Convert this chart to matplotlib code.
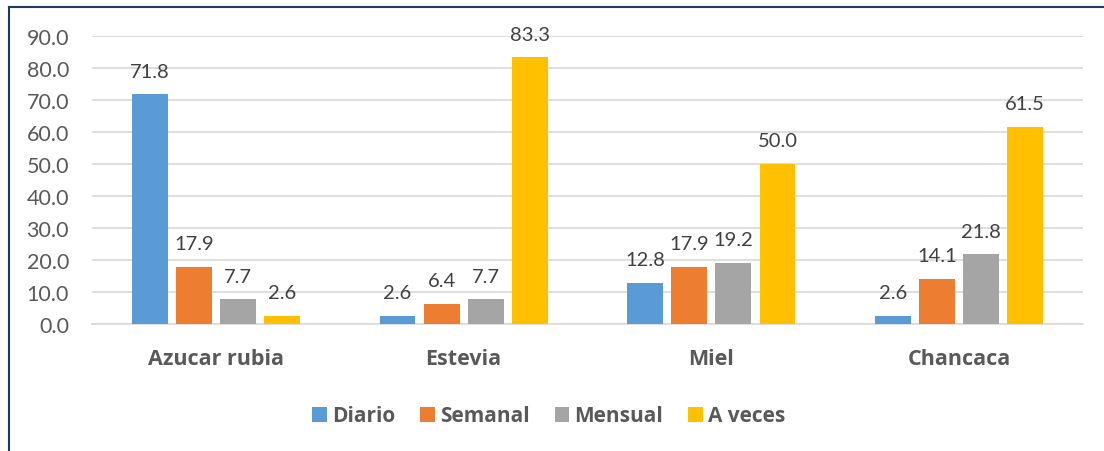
import numpy as np
import matplotlib.pyplot as plt

categories = ["Azucar rubia", "Estevia", "Miel", "Chancaca"]
series_names = ["Diario", "Semanal", "Mensual", "A veces"]
diario = [71.8, 2.6, 12.8, 2.6]
semanal = [17.9, 6.4, 17.9, 14.1]
mensual = [7.7, 7.7, 19.2, 21.8]
a_veces = [2.6, 83.3, 50.0, 61.5]
colors = ["#5B9BD5", "#ED7D31", "#A5A5A5", "#FFC000"]

plt.rcParams["font.family"] = ["Lato", "DejaVu Sans"]
text_color = "#595959"
bold_font = {"family": ["Open Sans", "DejaVu Sans"], "weight": "bold"}

fig = plt.figure(figsize=(11.04, 4.52), dpi=100)
ax = fig.add_axes([92 / 1104, 1 - 325 / 452, (1083 - 92) / 1104, (325 - 37) / 452])

x = np.arange(len(categories))
width = 0.145
step = 0.178
all_series = [diario, semanal, mensual, a_veces]
for i, (vals, name, c) in enumerate(zip(all_series, series_names, colors)):
    pos = x + (i - 1.5) * step
    bars = ax.bar(pos, vals, width, color=c, label=name, zorder=3)
    for b, v in zip(bars, vals):
        ax.text(b.get_x() + b.get_width() / 2, v + 4.6, f"{v:.1f}",
                ha="center", va="bottom", fontsize=14.5, color="#404040", zorder=4)

ax.set_xlim(-0.5, 3.5)
ax.set_ylim(0, 90)
ax.set_yticks(np.arange(0, 91, 10))
ax.set_yticklabels([f"{v:.1f}" for v in np.arange(0, 91, 10)], fontsize=15.5, color=text_color)
ax.set_xticks(x)
ax.set_xticklabels(categories, fontsize=15.5, color=text_color, **bold_font)
ax.tick_params(axis="both", length=0)
ax.tick_params(axis="y", pad=16.5)
ax.tick_params(axis="x", pad=17)
ax.grid(axis="y", color="#D9D9D9", linewidth=1.2, zorder=0)
for s in ["top", "right", "left"]:
    ax.spines[s].set_visible(False)
ax.spines["bottom"].set_color("#D9D9D9")
ax.spines["bottom"].set_linewidth(1.2)

leg = fig.legend(loc="center", bbox_to_anchor=(0.497, 1 - 417 / 452), ncol=4,
                 frameon=False, handlelength=0.7, handleheight=0.7,
                 handletextpad=0.25, columnspacing=1.2,
                 prop={"family": ["Open Sans", "DejaVu Sans"], "size": 15, "weight": "bold"})
for t in leg.get_texts():
    t.set_color(text_color)

# outer border (left and top edges visible)
fig.add_artist(plt.Line2D([9 / 1104, 9 / 1104], [0, 1 - 8 / 452], transform=fig.transFigure,
                          color="#1F3864", linewidth=1.5))
fig.add_artist(plt.Line2D([9 / 1104, 1], [1 - 8 / 452, 1 - 8 / 452], transform=fig.transFigure,
                          color="#1F3864", linewidth=1.5))

fig.savefig("out.png", dpi=100)
